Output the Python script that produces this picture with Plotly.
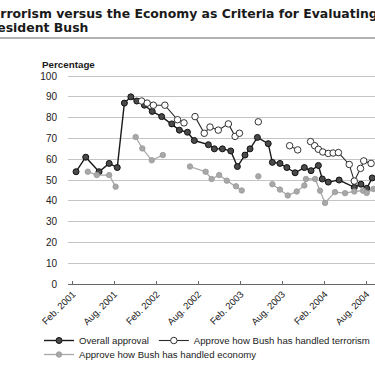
import plotly.graph_objects as go

# ---------------- data ----------------
overall_dates = ["2001-02-15", "2001-03-29", "2001-05-26", "2001-07-09", "2001-08-13",
                 "2001-09-13", "2001-10-11", "2001-11-06", "2001-12-09", "2002-01-12",
                 "2002-02-22", "2002-04-07", "2002-05-10", "2002-06-14", "2002-07-14",
                 "2002-09-13", "2002-10-09", "2002-11-13", "2002-12-19", "2003-01-17",
                 "2003-02-19", "2003-03-13", "2003-04-14", "2003-05-31", "2003-06-18",
                 "2003-07-21", "2003-08-20", "2003-09-25", "2003-11-04", "2003-12-03",
                 "2004-01-04", "2004-01-21", "2004-02-16", "2004-04-03", "2004-06-08",
                 "2004-07-07", "2004-08-01", "2004-08-25"]
overall_values = [54, 61, 54, 58, 56,
                  87, 90, 88, 86, 83,
                  80.5, 77, 74, 73, 69,
                  67, 65, 65, 64, 56.5,
                  62, 65, 70.5, 67.5, 58.5,
                  58, 56, 53.5, 56, 54.5,
                  57, 50.5, 49, 50, 46.5,
                  48, 46, 51]

terror_dates = ["2001-11-27", "2001-12-21", "2002-01-17", "2002-03-08", "2002-05-02",
                "2002-05-30", "2002-06-20",
                "2002-07-17", "2002-08-26", "2002-09-20", "2002-10-26", "2002-12-09",
                "2003-01-07", "2003-01-26", "2003-03-01",
                "2003-04-18", "2003-06-01",
                "2003-09-01", "2003-10-06", "2003-11-01",
                "2003-12-01", "2003-12-19", "2004-01-04", "2004-01-23", "2004-02-16",
                "2004-03-08", "2004-03-31", "2004-05-17", "2004-06-08", "2004-07-05",
                "2004-07-19", "2004-08-20"]
terror_values = [88, 87, 86, 86, 79,
                 77.5, None,
                 80.5, 72.5, 75.5, 74, 77,
                 71, 72.5, None,
                 78, None,
                 66.5, 64.5, None,
                 68.5, 66.5, 64.8, 63.5, 62.8,
                 63, 63.2, 57.5, 49.5, 55.6,
                 59.2, 58]

econ_dates = ["2001-04-07", "2001-05-16", "2001-07-09", "2001-08-06", "2001-09-20",
              "2001-11-01", "2001-11-30", "2002-01-10", "2002-02-27", "2002-05-01",
              "2002-06-25", "2002-09-01", "2002-09-27", "2002-10-30", "2002-12-02",
              "2003-01-11", "2003-02-05", "2003-03-10",
              "2003-04-18", "2003-05-20",
              "2003-06-18", "2003-07-21", "2003-08-24", "2003-10-02", "2003-11-04",
              "2003-11-11", "2003-12-21", "2004-01-11", "2004-02-02", "2004-03-16",
              "2004-04-29", "2004-06-08", "2004-07-16", "2004-08-01", "2004-08-30"]
econ_values = [54, 52.4, 52.4, 46.8, None,
               70.7, 65.2, 59.5, 62, None,
               56.5, 54, 50.5, 52.4, 49.7,
               47, 45, None,
               51.8, None,
               48, 45.4, 42.6, 44.5, 47.4,
               50.5, 50.5, 44.9, 39, 44.2,
               43.7, 44.5, 44.9, 43.8, 45.7]

tick_dates = ["2001-02-01", "2001-08-01", "2002-02-01", "2002-08-01",
              "2003-02-01", "2003-08-01", "2004-02-01", "2004-08-01"]
tick_labels = ["Feb. 2001", "Aug. 2001", "Feb. 2002", "Aug. 2002",
               "Feb. 2003", "Aug. 2003", "Feb. 2004", "Aug. 2004"]
y_ticks = [0, 10, 20, 30, 40, 50, 60, 70, 80, 90, 100]

series_names = ["Overall approval",
                "Approve how Bush has handled terrorism",
                "Approve how Bush has handled economy"]
title_lines = ["Terrorism versus the Economy as Criteria for Evaluating",
               "President Bush"]
y_title = "Percentage"

# ---------------- layout geometry ----------------
W, H = 375, 366
L, R, T, B = 68, 0, 74, 82
PW, PH = W - L - R, H - T - B


def px(x):
    return (x - L) / PW


def py(y):
    return (H - B - y) / PH


fig = go.Figure()
fig.add_trace(go.Scatter(
    x=overall_dates, y=overall_values, name=series_names[0], mode="lines+markers",
    line=dict(color="#1a1a1a", width=1.4),
    marker=dict(symbol="circle", size=6, color="#4a4a4a", line=dict(color="#111", width=1)),
    connectgaps=False, legend="legend"))
fig.add_trace(go.Scatter(
    x=terror_dates, y=terror_values, name=series_names[1], mode="lines+markers",
    line=dict(color="#2a2a2a", width=1.1),
    marker=dict(symbol="circle", size=6.5, color="white", line=dict(color="#333", width=1)),
    connectgaps=False, legend="legend"))
fig.add_trace(go.Scatter(
    x=econ_dates, y=econ_values, name=series_names[2], mode="lines+markers",
    line=dict(color="#a8a8a8", width=1.3),
    marker=dict(symbol="circle", size=5.5, color="#a8a8a8", line=dict(color="#999", width=0.8)),
    connectgaps=False, legend="legend2"))

legend_common = dict(orientation="h", xanchor="left", yanchor="top",
                     font=dict(size=9.6, color="#222"), bgcolor="rgba(0,0,0,0)",
                     traceorder="normal", itemwidth=30, tracegroupgap=0)

title_font = dict(family="DejaVu Sans, sans-serif", size=12.45, color="#1a1a1a", weight="bold")

fig.update_layout(
    width=W, height=H,
    margin=dict(l=L, r=R, t=T, b=B, autoexpand=False),
    paper_bgcolor="white", plot_bgcolor="white",
    font=dict(family="Liberation Sans, Arial, sans-serif", color="#222", size=10),
    showlegend=True,
    legend=dict(x=px(39), y=py(326), **legend_common),
    legend2=dict(x=px(39), y=py(340), **legend_common),
    xaxis=dict(
        type="date", range=["2001-01-11", "2004-09-06"],
        tickvals=tick_dates, ticktext=tick_labels, tickangle=-45,
        tickfont=dict(size=9.5, color="#222"),
        showgrid=False, zeroline=False,
        showline=True, linecolor="#666", linewidth=1.2,
        ticks="inside", ticklen=3, tickcolor="#666", tickwidth=1,
    ),
    yaxis=dict(
        range=[0, 101], tickvals=y_ticks,
        tickfont=dict(size=10, color="#222"),
        showgrid=True, gridcolor="#c4c4c4", gridwidth=1,
        zeroline=False, showline=False, ticks="", ticklabelstandoff=10,
    ),
    annotations=[
        dict(text=title_lines[0], xref="paper", yref="paper", x=px(-17), y=py(14),
             xanchor="left", yanchor="middle", align="left", showarrow=False,
             font=title_font),
        dict(text=title_lines[1], xref="paper", yref="paper", x=px(-20), y=py(27.5),
             xanchor="left", yanchor="middle", align="left", showarrow=False,
             font=title_font),
        dict(text=y_title, xref="paper", yref="paper", x=px(40), y=py(65),
             xanchor="left", yanchor="middle", showarrow=False,
             font=dict(size=9.8, color="#1a1a1a", weight="bold")),
    ],
    shapes=[
        dict(type="line", xref="paper", yref="paper", x0=px(0), x1=1, y0=py(38), y1=py(38),
             line=dict(color="#9a9a9a", width=1.5)),
    ],
)

fig.write_html("out.html",
               config={"displayModeBar": False},
               post_script="document.body.style.margin='0';document.body.style.overflow='hidden';")
